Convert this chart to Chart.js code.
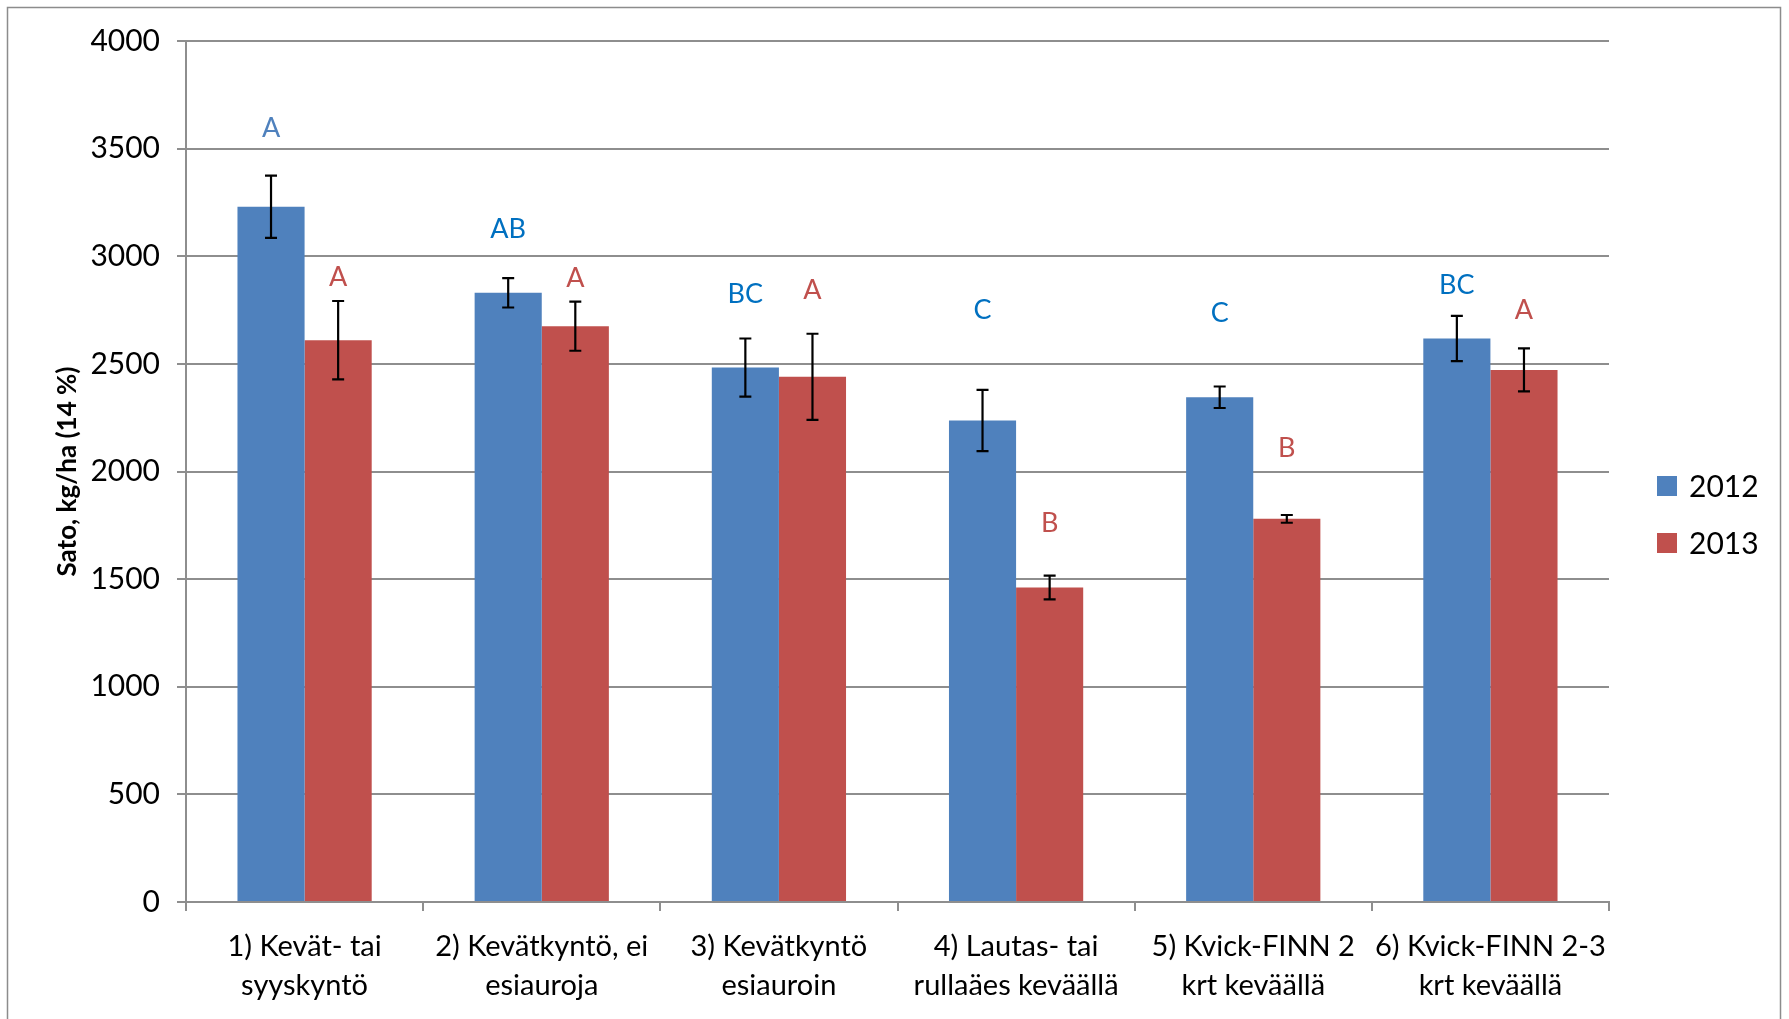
<!DOCTYPE html>
<html>
<head>
<meta charset="utf-8">
<script src="https://cdn.jsdelivr.net/npm/chart.js@4.4.0/dist/chart.umd.min.js"></script>
<style>
  html, body { margin: 0; padding: 0; background: #fff; overflow: hidden; }
  #wrap { position: relative; width: 1789px; height: 1019px; }
</style>
</head>
<body>
<div id="wrap"><canvas id="chart" width="1789" height="1019"></canvas></div>
<script>
// kategoriat ja arvot (luettu kuvasta)
const categories = [
    ["1) Kevät- tai", "syyskyntö"],
    ["2) Kevätkyntö, ei", "esiauroja"],
    ["3) Kevätkyntö", "esiauroin"],
    ["4) Lautas- tai", "rullaäes keväällä"],
    ["5) Kvick-FINN 2", "krt keväällä"],
    ["6) Kvick-FINN 2-3", "krt keväällä"]
];
const years = ["2012", "2013"];
const yield2012 = [3230, 2830, 2483, 2237, 2345, 2618];
const yield2013 = [2610, 2675, 2440, 1461, 1780, 2472];
const err2012 = [145, 68, 135, 142, 50, 105];
const err2013 = [182, 114, 200, 55, 18, 100];
// merkitsevyyskirjaimet ja niiden korkeus (kg/ha)
const letters2012 = ["A", "AB", "BC", "C", "C", "BC"];
const letters2013 = ["A", "A", "A", "B", "B", "A"];
const letterY2012 = [3595, 3126, 2822, 2749, 2734, 2866];
const letterY2013 = [2903, 2898, 2843, 1759, 2107, 2747];
const yTicks = [0, 500, 1000, 1500, 2000, 2500, 3000, 3500, 4000];

const BLUE = "#4f81bd";
const RED = "#c0504d";
const letterColor2012 = ["#4f81bd", "#0070c0", "#0070c0", "#0070c0", "#0070c0", "#0070c0"];
const GRID = "#8e8e8e";
const FONT = "Lato, 'Open Sans', sans-serif";

// virhepalkit + kirjaimet
const annotations = {
    id: "annotations",
    afterDatasetsDraw(chart) {
        const ctx = chart.ctx;
        const y = chart.scales.y;
        const errs = [err2012, err2013];
        const vals = [yield2012, yield2013];
        const lets = [letters2012, letters2013];
        const letY = [letterY2012, letterY2013];
        ctx.save();
        for (let d = 0; d < 2; d++) {
            const meta = chart.getDatasetMeta(d);
            meta.data.forEach((bar, i) => {
                const top = y.getPixelForValue(vals[d][i] + errs[d][i]);
                const bot = y.getPixelForValue(vals[d][i] - errs[d][i]);
                ctx.strokeStyle = "#000";
                ctx.lineWidth = 2.2;
                ctx.beginPath();
                ctx.moveTo(bar.x, top); ctx.lineTo(bar.x, bot);
                ctx.moveTo(bar.x - 6, top); ctx.lineTo(bar.x + 6, top);
                ctx.moveTo(bar.x - 6, bot); ctx.lineTo(bar.x + 6, bot);
                ctx.stroke();

                ctx.font = "27px " + FONT;
                ctx.textAlign = "center";
                ctx.textBaseline = "middle";
                ctx.fillStyle = d === 0 ? letterColor2012[i] : RED;
                ctx.fillText(lets[d][i], bar.x, y.getPixelForValue(letY[d][i]));
            });
        }
        ctx.restore();
    }
};

// kehys ja selite
const frameLegend = {
    id: "frameLegend",
    afterDraw(chart) {
        const ctx = chart.ctx;
        ctx.save();
        ctx.strokeStyle = "#8c8c8c";
        ctx.lineWidth = 1.5;
        ctx.strokeRect(7.5, 7.5, 1773, 1100);

        const colors = [BLUE, RED];
        const rowY = [486, 543];
        ctx.font = "30px " + FONT;
        ctx.textBaseline = "middle";
        ctx.textAlign = "left";
        years.forEach((yr, i) => {
            ctx.fillStyle = colors[i];
            ctx.fillRect(1657, rowY[i] - 10, 20, 20);
            ctx.fillStyle = "#000";
            ctx.fillText(yr, 1689, rowY[i] + 1);
        });
        ctx.restore();
    }
};

new Chart(document.getElementById("chart"), {
    type: "bar",
    data: {
        labels: categories,
        datasets: [
            { label: years[0], data: yield2012, backgroundColor: BLUE, categoryPercentage: 0.566, barPercentage: 1 },
            { label: years[1], data: yield2013, backgroundColor: RED, categoryPercentage: 0.566, barPercentage: 1 }
        ]
    },
    options: {
        responsive: false,
        animation: false,
        devicePixelRatio: 1,
        layout: { padding: { top: 41, right: 180, bottom: 0, left: 0 } },
        plugins: {
            legend: { display: false },
            tooltip: { enabled: false }
        },
        scales: {
            x: {
                grid: { drawOnChartArea: false, drawTicks: true, offset: true, tickLength: 9, color: GRID, lineWidth: 2 },
                border: { color: GRID, width: 2 },
                ticks: {
                    color: "#000",
                    padding: 16,
                    maxRotation: 0,
                    autoSkip: false,
                    font: { family: FONT, size: 29, lineHeight: 39 / 29 }
                },
                afterFit(scale) { scale.height = 117; }
            },
            y: {
                min: 0,
                max: 4000,
                afterBuildTicks(scale) { scale.ticks = yTicks.map(v => ({ value: v })); },
                grid: { color: GRID, lineWidth: 2, tickLength: 9 },
                border: { color: GRID, width: 2 },
                ticks: {
                    color: "#000",
                    padding: 17,
                    font: { family: FONT, size: 30 },
                    callback: (v) => String(v)
                },
                title: {
                    display: true,
                    text: "Sato, kg/ha (14 %)",
                    color: "#000",
                    font: { family: FONT, size: 26, weight: "bold" },
                    padding: { top: 52, bottom: 0 }
                },
                afterFit(scale) { scale.width = 186; }
            }
        }
    },
    plugins: [annotations, frameLegend]
});
</script>
</body>
</html>
